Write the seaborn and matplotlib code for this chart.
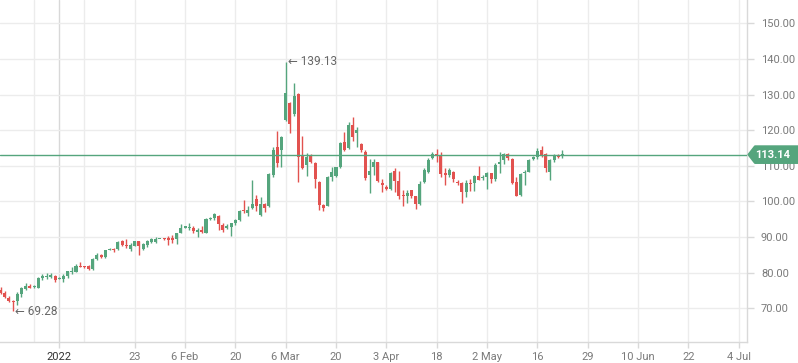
import numpy as np
import pandas as pd
import seaborn as sns
import matplotlib
matplotlib.use("Agg")
import matplotlib.pyplot as plt
from matplotlib.patches import Polygon

# ---------------- data ----------------
opens = [75.2, 74.4, 73.0, 71.9, 72.1, 74.0, 75.5, 76.4, 75.9, 75.8,
         78.5, 78.9, 78.9, 79.0, 78.3, 78.3, 79.0, 80.2, 80.3, 82.0,
         81.8, 81.8, 81.1, 83.9, 85.0, 84.3, 86.4, 86.8, 86.7, 88.8,
         87.8, 86.6, 87.6, 88.8, 86.7, 87.8, 88.6, 88.7, 89.5, 89.7,
         89.9, 89.7, 89.4, 91.3, 92.7, 92.6, 92.7, 91.4, 92.0, 91.3,
         95.1, 95.5, 96.0, 93.4, 92.5, 92.8, 93.9, 94.8, 97.6, 96.7,
         98.2, 100.7, 96.2, 99.3, 98.6, 107.4, 115.2, 114.3, 122.9, 127.6,
         124.6, 130.2, 112.8, 110.3, 113.1, 110.7, 105.6, 99.0, 98.8, 107.0,
         107.2, 109.6, 116.8, 114.9, 121.5, 119.1, 116.1, 114.0, 107.3, 109.8,
         111.2, 105.3, 104.2, 103.5, 108.6, 105.8, 101.9, 101.6, 103.2, 101.4,
         99.3, 105.6, 108.2, 112.1, 113.3, 112.8, 108.1, 107.3, 108.4, 105.6,
         105.1, 102.8, 105.3, 105.1, 107.2, 106.5, 107.0, 107.9, 106.2, 110.5,
         111.5, 113.3, 111.9, 105.6, 101.8, 107.9, 108.4, 111.9, 112.6, 114.5,
         113.3, 108.4, 111.7, 112.9, 112.9]
highs = [76.0, 74.9, 73.5, 72.4, 74.7, 76.1, 77.1, 76.8, 76.6, 78.9,
         79.6, 79.9, 79.9, 79.4, 78.8, 79.6, 80.5, 81.6, 82.4, 83.1,
         82.0, 82.2, 84.1, 85.5, 85.3, 86.5, 87.0, 86.9, 88.9, 89.2,
         89.5, 88.3, 89.0, 89.0, 88.3, 89.3, 89.8, 90.0, 89.6, 89.8,
         90.2, 90.6, 91.3, 93.6, 93.1, 93.9, 93.0, 92.5, 93.0, 95.3,
         95.6, 96.7, 96.2, 93.9, 93.8, 93.9, 95.0, 97.7, 100.4, 98.6,
         105.9, 101.9, 101.2, 99.7, 108.0, 115.2, 119.8, 118.4, 139.13, 128.0,
         133.2, 130.5, 118.4, 113.7, 113.3, 111.0, 105.8, 99.3, 107.2, 109.8,
         109.8, 116.8, 119.6, 122.4, 123.8, 120.8, 116.3, 114.3, 111.9, 111.9,
         111.2, 106.2, 104.7, 108.4, 109.3, 108.6, 103.2, 103.2, 103.2, 101.6,
         105.8, 109.3, 112.3, 113.8, 114.7, 114.0, 109.3, 109.5, 108.6, 105.9,
         105.6, 106.0, 106.2, 107.4, 109.9, 107.4, 108.2, 108.1, 110.7, 114.0,
         113.7, 113.5, 112.1, 106.8, 107.9, 108.7, 111.9, 112.8, 114.9, 115.7,
         113.5, 111.9, 113.3, 113.3, 114.5]
lows = [74.1, 72.9, 71.8, 69.28, 71.0, 73.3, 75.2, 75.8, 75.7, 75.7,
        78.1, 78.3, 78.5, 77.5, 78.2, 77.5, 78.6, 79.6, 80.2, 81.5,
        81.3, 80.8, 80.9, 83.6, 84.1, 84.1, 86.4, 85.9, 86.4, 87.5,
        86.9, 86.1, 87.5, 85.0, 86.4, 87.2, 88.3, 88.3, 89.4, 89.2,
        87.8, 88.3, 88.1, 91.1, 92.5, 92.0, 91.1, 90.1, 91.1, 91.1,
        94.9, 94.8, 92.0, 91.4, 92.3, 90.2, 93.5, 94.5, 96.9, 96.0,
        97.9, 97.2, 96.0, 97.0, 98.4, 107.0, 109.8, 109.8, 122.7, 119.2,
        124.0, 105.6, 109.1, 107.2, 110.7, 103.7, 97.6, 97.2, 98.6, 105.8,
        107.0, 109.3, 114.2, 114.7, 117.1, 115.4, 113.8, 106.0, 102.3, 107.4,
        105.6, 102.8, 103.2, 103.2, 102.8, 100.6, 98.6, 99.7, 101.1, 97.8,
        99.0, 105.3, 107.9, 111.9, 111.0, 107.0, 104.6, 107.0, 105.6, 104.6,
        99.5, 101.2, 103.0, 103.0, 105.9, 106.0, 103.4, 105.1, 105.8, 107.9,
        110.5, 111.7, 104.9, 101.4, 101.6, 104.6, 108.2, 111.7, 111.9, 112.6,
        108.4, 105.9, 111.2, 112.1, 112.1]
closes = [74.4, 73.1, 72.1, 71.7, 74.0, 75.7, 76.4, 75.8, 76.1, 78.6,
          79.2, 79.2, 79.4, 78.0, 78.6, 79.2, 80.4, 80.5, 82.0, 81.7,
          81.5, 81.1, 83.9, 85.0, 84.3, 86.4, 86.8, 86.3, 88.6, 87.8,
          87.5, 87.8, 88.8, 87.4, 88.0, 88.9, 89.5, 89.5, 89.6, 89.4,
          89.2, 89.2, 91.3, 92.7, 93.0, 92.9, 91.6, 92.0, 91.5, 95.1,
          95.5, 96.4, 93.6, 92.0, 93.2, 93.9, 94.7, 97.3, 97.4, 97.6,
          99.3, 98.6, 99.2, 98.3, 107.7, 114.5, 110.7, 118.0, 130.4, 121.8,
          129.6, 112.6, 109.3, 112.4, 111.2, 106.2, 99.0, 98.1, 106.8, 108.4,
          109.6, 116.5, 114.5, 121.5, 118.2, 120.0, 114.3, 106.5, 108.6, 111.2,
          105.8, 104.6, 103.5, 108.1, 105.8, 101.6, 101.6, 102.3, 101.4, 99.3,
          104.9, 108.9, 111.7, 113.3, 112.8, 107.7, 107.3, 108.9, 106.3, 105.2,
          102.6, 105.1, 105.0, 107.2, 106.0, 107.0, 107.9, 106.2, 110.3, 111.2,
          113.3, 112.1, 105.3, 101.6, 107.6, 108.1, 111.5, 112.6, 114.2, 113.1,
          109.3, 111.7, 113.1, 112.6, 113.14]

tick_labels = ["2022", "23", "6 Feb", "20", "6 Mar", "20", "3 Apr", "18",
               "2 May", "16", "29", "10 Jun", "22", "4 Jul"]
tick_pos = [14, 32, 44, 56, 68, 80, 92, 104, 116, 128, 140, 152, 164, 176]
extra_grid = [8, 20]
y_ticks = [70, 80, 90, 100, 110, 120, 130, 140, 150]
last_price = 113.14
max_label = ("← 139.13", 139.13)
min_label = ("← 69.28", 69.28)

df = pd.DataFrame({"open": opens, "high": highs, "low": lows, "close": closes})
df["idx"] = np.arange(len(df))
df["up"] = df["close"] >= df["open"]

# ---------------- style ----------------
sns.set_theme(style="white")
plt.rcParams["font.family"] = ["Roboto", "DejaVu Sans"]

GREEN = "#55a57d"
RED = "#e2524f"
GRID = "#ececec"

W, H = 798, 363
fig = plt.figure(figsize=(W / 100, H / 100), dpi=100)
ax_l, ax_b, ax_w, ax_h = 0.0, 21 / H, 747 / W, 342 / H
ax = fig.add_axes([ax_l, ax_b, ax_w, ax_h])

ymin, ymax = 60.6, 156.5
xmin, xmax = -0.12, 178.0

# wicks
colors = np.where(df["up"], GREEN, RED)
ax.vlines(df["idx"], df["low"], df["high"], colors=colors, linewidth=1.0, zorder=3)
# bodies
body_bottom = np.minimum(df["open"], df["close"])
body_h = np.maximum(np.abs(df["close"] - df["open"]), 0.3)
ax.bar(df["idx"], body_h, bottom=body_bottom, width=0.72, color=colors,
       linewidth=0, zorder=4)

# last price line
ax.axhline(last_price, color=GREEN, linewidth=1.0, zorder=5)

ax.set_xlim(xmin, xmax)
ax.set_ylim(ymin, ymax)

# grid & ticks
ax.set_yticks(y_ticks)
ax.set_yticklabels([f"{v:.2f}" for v in y_ticks])
ax.yaxis.tick_right()
ax.set_xticks(tick_pos)
ax.set_xticklabels(tick_labels)
ax.set_xticks(extra_grid, minor=True)
ax.grid(True, which="major", color=GRID, linewidth=1.0, zorder=0)
ax.grid(True, which="minor", axis="x", color=GRID, linewidth=1.0, zorder=0)
ax.set_axisbelow(True)
ax.get_xgridlines()[0].set_color("#d8d8d8")

ax.tick_params(axis="y", which="major", length=5, width=1, color="#d9d9d9",
               pad=5, labelsize=8, labelcolor="#7a7a7a", right=True, left=False)
ax.tick_params(axis="x", which="major", length=4, width=1, color="#d9d9d9",
               pad=3, labelsize=8, labelcolor="#7a7a7a", bottom=True)
ax.tick_params(axis="x", which="minor", length=0)
ax.get_xticklabels()[0].set_color("#333333")

for side in ["left", "top"]:
    ax.spines[side].set_visible(False)
for side in ["right", "bottom"]:
    ax.spines[side].set_color("#d9d9d9")
    ax.spines[side].set_linewidth(1.0)
ax.set_facecolor("white")
fig.patch.set_facecolor("white")

# extreme annotations
ax.annotate(max_label[0], xy=(int(np.argmax(highs)), max_label[1]),
            xytext=(1.5, 0), textcoords="offset points", ha="left", va="center",
            fontsize=8.5, color="#666666", zorder=6)
ax.annotate(min_label[0], xy=(int(np.argmin(lows)), min_label[1]),
            xytext=(1.5, 0), textcoords="offset points", ha="left", va="center",
            fontsize=8.5, color="#666666", zorder=6)

# price tag on the right
y_frac = ax_b + (last_price - ymin) / (ymax - ymin) * ax_h
yc = y_frac * H
half = 8.3
pts = [(748.5, yc), (755, yc + half), (800, yc + half), (800, yc - half), (755, yc - half)]
tag = Polygon([(px / W, py / H) for px, py in pts], closed=True,
              transform=fig.transFigure, facecolor=GREEN, edgecolor=GREEN,
              linewidth=1.5, joinstyle="round", zorder=10)
fig.patches.append(tag)
fig.text(773 / W, y_frac, f"{last_price:.2f}", color="white", fontsize=8,
         fontweight="bold", ha="center", va="center", zorder=11)

fig.savefig("out.png", dpi=100)
